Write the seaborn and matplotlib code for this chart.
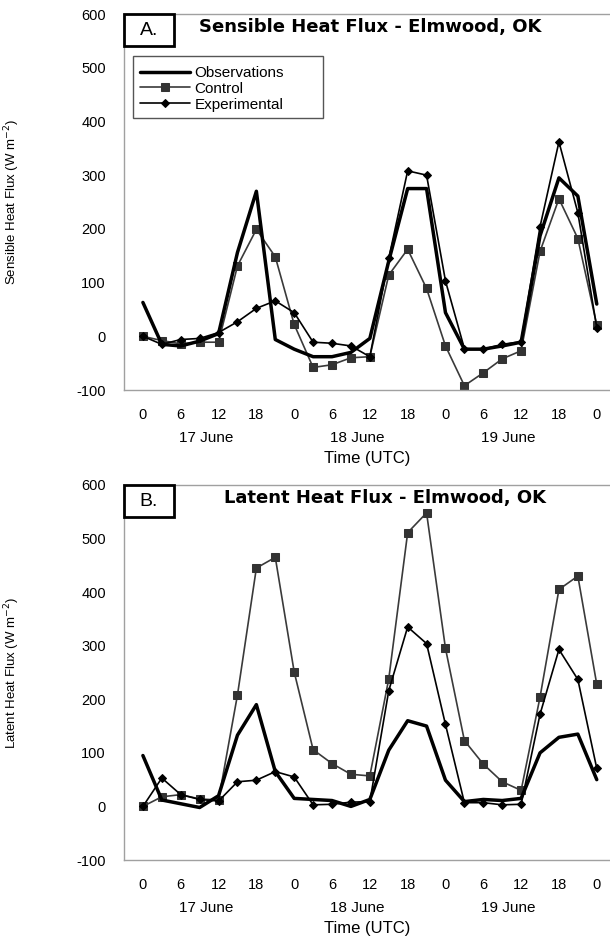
import numpy as np
import pandas as pd
import matplotlib.pyplot as plt
from matplotlib.patches import Rectangle
import matplotlib.transforms as mtransforms
import seaborn as sns

# hours since 00 UTC 17 June, 3-hourly
hours = np.arange(0, 73, 3)

# sensible heat flux (W m-2)
sens_obs = [63, -15, -18, -9, 5, 156, 270, -6, -24, -38, -38, -30, -4,
            140, 275, 275, 44, -24, -24, -18, -11, 187, 295, 261, 60]
sens_ctl = [0, -8, -14, -11, -11, 131, 199, 148, 22, -58, -53, -40, -38,
            114, 162, 89, -18, -92, -68, -42, -27, 158, 256, 182, 21]
sens_exp = [0, -15, -6, -4, 7, 27, 52, 66, 44, -11, -13, -18, -38,
            145, 308, 300, 103, -23, -24, -15, -10, 204, 362, 230, 16]

# latent heat flux (W m-2)
lat_obs = [95, 12, 5, -2, 20, 133, 190, 65, 15, 13, 11, 0, 13,
           105, 160, 150, 49, 9, 13, 11, 15, 100, 129, 135, 50]
lat_ctl = [0, 18, 22, 14, 12, 208, 445, 465, 251, 106, 80, 60, 57,
           238, 511, 548, 295, 123, 79, 46, 30, 204, 405, 430, 228]
lat_exp = [0, 53, 22, 13, 10, 46, 49, 65, 55, 3, 4, 8, 9,
           216, 335, 304, 153, 7, 7, 3, 4, 172, 293, 237, 71]

tick_hours = np.arange(0, 73, 6)
tick_labels = ['0', '6', '12', '18', '0', '6', '12', '18', '0', '6', '12', '18', '0']
day_labels = ['17 June', '18 June', '19 June']
day_pos = [10, 34, 58]

sns.set_style('white')
plt.rcParams['font.family'] = ['Liberation Sans', 'DejaVu Sans']
plt.rcParams['text.color'] = 'black'
plt.rcParams['axes.labelcolor'] = 'black'
plt.rcParams['axes.unicode_minus'] = False

fig = plt.figure(figsize=(6.1, 9.39), dpi=100)
axA = fig.add_axes([124 / 610, 1 - 390 / 939, 486 / 610, 376 / 939])
axB = fig.add_axes([124 / 610, 1 - 860 / 939, 486 / 610, 375 / 939])


def draw_panel(ax, obs, ctl, exp, letter, title, ylabel, title_x, legend=False):
    lab = (lambda s: s) if legend else (lambda s: None)
    sns.lineplot(x=hours, y=obs, ax=ax, color='black', linewidth=2.5,
                 label=lab('Observations'), zorder=3)
    sns.lineplot(x=hours, y=ctl, ax=ax, color='#3a3a3a', linewidth=1.2,
                 marker='s', markersize=6, markerfacecolor='#333333',
                 markeredgecolor='#333333', label=lab('Control'), zorder=2)
    sns.lineplot(x=hours, y=exp, ax=ax, color='black', linewidth=1.2,
                 marker='D', markersize=3.8, markerfacecolor='black',
                 markeredgecolor='black', label=lab('Experimental'), zorder=4)

    ax.set_xlim(-3, 74.1)
    ax.set_ylim(-100, 600)
    ax.set_yticks(range(-100, 601, 100))
    ax.set_xticks(tick_hours)
    ax.set_xticklabels(tick_labels)
    ax.tick_params(axis='both', length=0, labelsize=10.5, colors='black')
    ax.tick_params(axis='x', pad=13)
    ax.tick_params(axis='y', pad=13)
    for side in ['left', 'bottom', 'top']:
        ax.spines[side].set_color('#a0a0a0')
        ax.spines[side].set_linewidth(1.0)
    ax.spines['right'].set_visible(False)
    ax.set_xlabel('')
    ax.set_ylabel(ylabel, fontsize=9.5)
    ax.yaxis.set_label_coords(-0.21, 0.5)

    trans = mtransforms.blended_transform_factory(ax.transData, ax.transAxes)
    for lbl, pos in zip(day_labels, day_pos):
        ax.text(pos, -0.128, lbl, transform=trans, ha='center', va='center',
                fontsize=11)
    ax.text(0.5, -0.183, 'Time (UTC)', transform=ax.transAxes, ha='center',
            va='center', fontsize=12)

    # panel letter box
    ax.add_patch(Rectangle((0, 0.915), 50 / 486, 0.085, transform=ax.transAxes,
                           fill=True, facecolor='white', edgecolor='black',
                           linewidth=2, clip_on=False, zorder=6))
    ax.text(25 / 486, 0.957, letter, transform=ax.transAxes, ha='center',
            va='center', fontsize=14, zorder=7)
    ax.text(title_x, 0.966, title, transform=ax.transAxes, ha='center',
            va='center', fontsize=13, fontweight='bold',
            family='DejaVu Sans', zorder=7)

    if legend:
        ax.add_patch(Rectangle((9 / 486, 0.7234), 190 / 486, 0.165,
                               transform=ax.transAxes, facecolor='white',
                               edgecolor='#555555', linewidth=1, zorder=5))
        leg = ax.legend(loc='upper left', bbox_to_anchor=(0.032, 0.862),
                        frameon=False, fontsize=11, handlelength=3.3,
                        handletextpad=0.3, labelspacing=0.12, borderpad=0,
                        borderaxespad=0)
        leg.set_zorder(6)
    else:
        if ax.get_legend() is not None:
            ax.get_legend().remove()


draw_panel(axA, sens_obs, sens_ctl, sens_exp, 'A.',
           'Sensible Heat Flux - Elmwood, OK',
           'Sensible Heat Flux (W m$^{-2}$)', 0.506, legend=True)
draw_panel(axB, lat_obs, lat_ctl, lat_exp, 'B.',
           'Latent Heat Flux - Elmwood, OK',
           'Latent Heat Flux (W m$^{-2}$)', 0.537)

fig.savefig('out.png', dpi=100)
